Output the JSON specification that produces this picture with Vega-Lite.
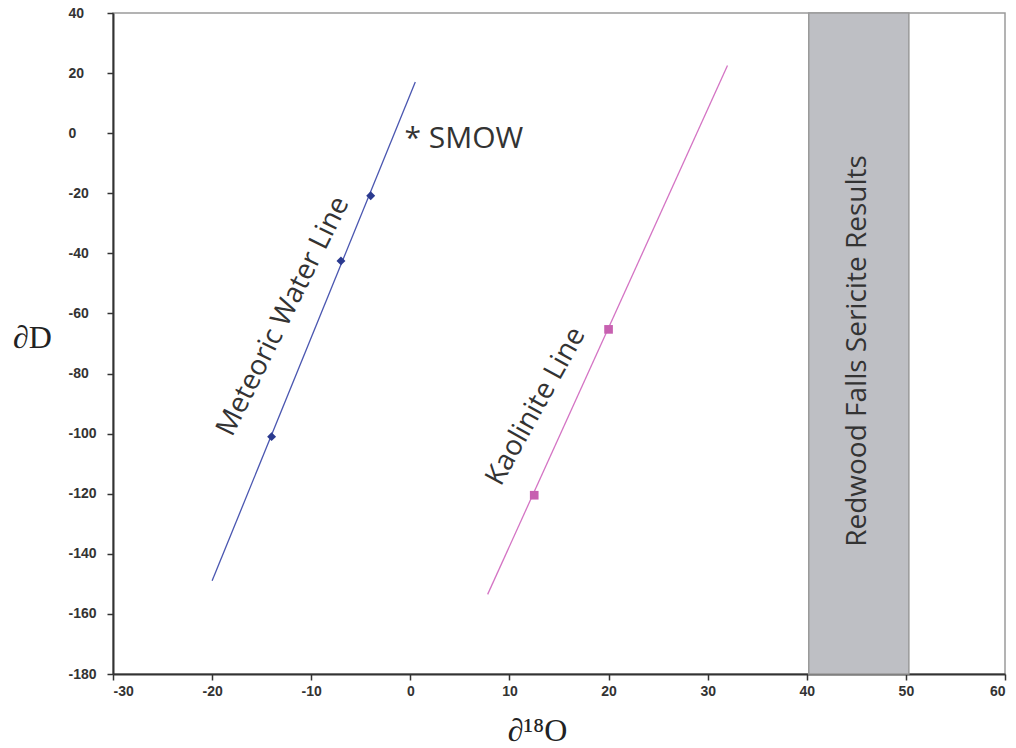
{
  "$schema": "https://vega.github.io/schema/vega-lite/v6.json",
  "width": 892,
  "height": 661,
  "autosize": {"type": "none"},
  "padding": {"left": 113, "top": 13, "right": 11, "bottom": 74},
  "background": "white",
  "config": {
    "view": {"stroke": "#9a9a9a", "strokeWidth": 1.5},
    "axis": {
      "grid": false,
      "domainColor": "#333333",
      "domainWidth": 2,
      "tickColor": "#333333",
      "tickWidth": 1.5,
      "tickSize": 6,
      "labelFont": "Liberation Sans",
      "labelFontWeight": "bold",
      "labelFontSize": 14,
      "labelColor": "#333333",
      "titleFont": "Liberation Serif",
      "titleFontWeight": "normal",
      "titleFontSize": 32,
      "titleColor": "#222222"
    }
  },
  "datasets": {
    "band": [{"x": 40.2, "x2": 50.3, "y": 40, "y2": -180}],
    "mwl": [{"x": -20, "y": -149}, {"x": 0.5, "y": 17}],
    "kao": [{"x": 7.8, "y": -153.5}, {"x": 32, "y": 22.5}],
    "mwlPts": [{"x": -14, "y": -101}, {"x": -7, "y": -42.5}, {"x": -4, "y": -20.8}],
    "kaoPts": [{"x": 12.5, "y": -120.5}, {"x": 20, "y": -65.3}],
    "labels": [
      {"x": -12.8, "y": -61, "text": "Meteoric Water Line", "kind": "mwl"},
      {"x": 12.7, "y": -91, "text": "Kaolinite Line", "kind": "kao"}
    ],
    "vlabel": [{"x": 45.2, "y": -72.5, "text": "Redwood Falls Sericite Results"}],
    "smow": [{"x": -0.6, "y": -1.8, "text": "* SMOW"}]
  },
  "layer": [
    {
      "data": {"name": "band"},
      "mark": {"type": "rect", "fill": "#bebfc4", "stroke": "#9a9a9a", "strokeWidth": 1.5},
      "encoding": {
        "x": {"field": "x", "type": "quantitative",
          "scale": {"domain": [-30, 60], "nice": false, "zero": false},
          "axis": {"values": [-30, -20, -10, 0, 10, 20, 30, 40, 50, 60], "title": "∂¹⁸O",
            "labelExpr": "datum.value < 0 ? '-' + abs(datum.value) : '' + datum.value",
            "titleX": 424, "titleY": 56, "titleAlign": "center", "titleBaseline": "middle", "labelPadding": 4}},
        "x2": {"field": "x2"},
        "y": {"field": "y", "type": "quantitative",
          "scale": {"domain": [-180, 40], "nice": false, "zero": false},
          "axis": {"values": [-180, -160, -140, -120, -100, -80, -60, -40, -20, 0, 20, 40], "title": "∂D",
            "labelExpr": "datum.value < 0 ? '-' + abs(datum.value) : '' + datum.value",
            "labelAlign": "left", "labelPadding": 39,
            "titleAngle": 0, "titleX": -81, "titleY": 324, "titleAlign": "center", "titleBaseline": "middle"}},
        "y2": {"field": "y2"}
      }
    },
    {
      "data": {"name": "mwl"},
      "mark": {"type": "line", "color": "#4a56b0", "strokeWidth": 1.3},
      "encoding": {
        "x": {"field": "x", "type": "quantitative"},
        "y": {"field": "y", "type": "quantitative"}
      }
    },
    {
      "data": {"name": "kao"},
      "mark": {"type": "line", "color": "#d474c4", "strokeWidth": 1.3},
      "encoding": {
        "x": {"field": "x", "type": "quantitative"},
        "y": {"field": "y", "type": "quantitative"}
      }
    },
    {
      "data": {"name": "mwlPts"},
      "mark": {"type": "point", "shape": "diamond", "filled": true, "color": "#2b3a8f", "size": 80, "opacity": 1},
      "encoding": {
        "x": {"field": "x", "type": "quantitative"},
        "y": {"field": "y", "type": "quantitative"}
      }
    },
    {
      "data": {"name": "kaoPts"},
      "mark": {"type": "point", "shape": "square", "filled": true, "color": "#c760b0", "size": 75, "opacity": 1},
      "encoding": {
        "x": {"field": "x", "type": "quantitative"},
        "y": {"field": "y", "type": "quantitative"}
      }
    },
    {
      "data": {"name": "labels"},
      "transform": [{"filter": "datum.kind == 'mwl'"}],
      "mark": {"type": "text", "font": "Open Sans", "fontSize": 28, "color": "#333333", "angle": 296.5, "align": "center", "baseline": "middle"},
      "encoding": {
        "x": {"field": "x", "type": "quantitative"},
        "y": {"field": "y", "type": "quantitative"},
        "text": {"field": "text"}
      }
    },
    {
      "data": {"name": "labels"},
      "transform": [{"filter": "datum.kind == 'kao'"}],
      "mark": {"type": "text", "font": "Open Sans", "fontSize": 28, "color": "#333333", "angle": 299, "align": "center", "baseline": "middle"},
      "encoding": {
        "x": {"field": "x", "type": "quantitative"},
        "y": {"field": "y", "type": "quantitative"},
        "text": {"field": "text"}
      }
    },
    {
      "data": {"name": "vlabel"},
      "mark": {"type": "text", "font": "Open Sans", "fontSize": 28, "color": "#333333", "angle": 270, "align": "center", "baseline": "middle"},
      "encoding": {
        "x": {"field": "x", "type": "quantitative"},
        "y": {"field": "y", "type": "quantitative"},
        "text": {"field": "text"}
      }
    },
    {
      "data": {"name": "smow"},
      "mark": {"type": "text", "font": "Open Sans", "fontSize": 30, "color": "#333333", "align": "left", "baseline": "middle"},
      "encoding": {
        "x": {"field": "x", "type": "quantitative"},
        "y": {"field": "y", "type": "quantitative"},
        "text": {"field": "text"}
      }
    }
  ]
}
